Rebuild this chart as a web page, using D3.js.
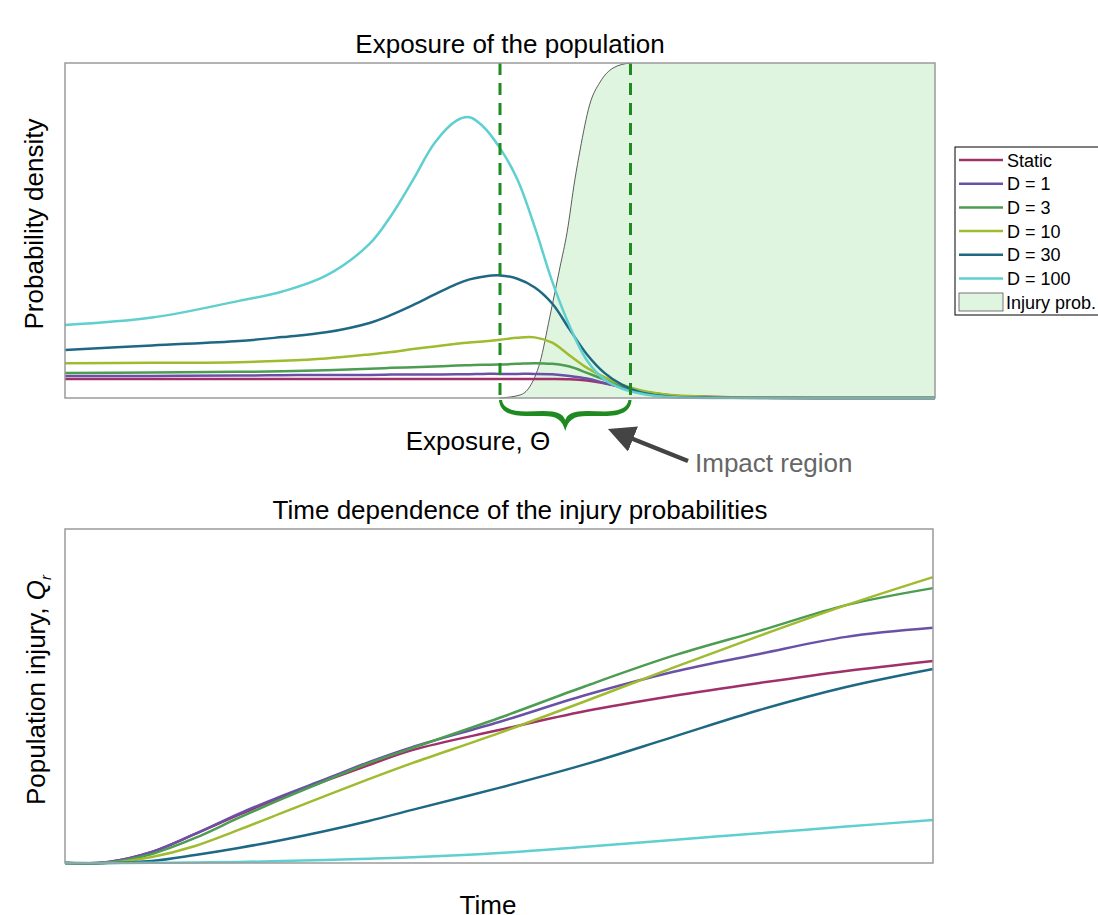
<!DOCTYPE html>
<html>
<head>
<meta charset="utf-8">
<script src="https://cdn.jsdelivr.net/npm/d3@7"></script>
<style>
  body { margin: 0; background: #fff; }
  svg { display: block; font-family: "Liberation Sans", Arial, sans-serif; }
  .frame { fill: none; stroke: #9a9a9a; stroke-width: 1.5px; }
</style>
</head>
<body>
<div id="chart"></div>
<script>
// exposure grid (top panel) and density of each population
var theta = [0, 1, 2, 2.5, 3, 3.5, 3.75, 4, 4.25, 4.5, 4.65, 4.8, 5, 5.2, 5.4, 5.6, 5.8, 6, 6.2, 6.4, 6.6, 6.8, 7, 7.5, 8, 9, 10];
var densStatic = [0.057, 0.057, 0.057, 0.057, 0.057, 0.057, 0.057, 0.057, 0.057, 0.057, 0.057, 0.057, 0.057, 0.057, 0.057, 0.057, 0.056, 0.052, 0.044, 0.032, 0.021, 0.013, 0.007, 0.003, 0.001, 0, 0];
var densD1 = [0.066, 0.066, 0.067, 0.068, 0.069, 0.069, 0.070, 0.070, 0.070, 0.071, 0.071, 0.072, 0.072, 0.072, 0.072, 0.071, 0.066, 0.058, 0.045, 0.032, 0.020, 0.011, 0.006, 0.002, 0.001, 0, 0];
var densD3 = [0.075, 0.076, 0.078, 0.080, 0.083, 0.087, 0.090, 0.092, 0.094, 0.097, 0.098, 0.099, 0.100, 0.102, 0.104, 0.102, 0.094, 0.075, 0.055, 0.036, 0.022, 0.013, 0.007, 0.002, 0.001, 0, 0];
var densD10 = [0.104, 0.105, 0.107, 0.111, 0.118, 0.130, 0.137, 0.146, 0.154, 0.162, 0.166, 0.169, 0.174, 0.180, 0.181, 0.165, 0.127, 0.090, 0.062, 0.040, 0.024, 0.014, 0.008, 0.003, 0.001, 0, 0];
var densD30 = [0.143, 0.157, 0.170, 0.182, 0.196, 0.224, 0.248, 0.277, 0.309, 0.340, 0.354, 0.362, 0.366, 0.356, 0.330, 0.282, 0.205, 0.130, 0.075, 0.040, 0.018, 0.008, 0.003, 0.001, 0, 0, 0];
var densD100 = [0.218, 0.240, 0.290, 0.318, 0.365, 0.460, 0.545, 0.651, 0.762, 0.828, 0.838, 0.812, 0.746, 0.652, 0.510, 0.348, 0.215, 0.112, 0.055, 0.028, 0.014, 0.006, 0.002, 0, 0, 0, 0];

// injury probability (dose-response) on its own grid
var injuryTheta = [5.0, 5.23, 5.34, 5.46, 5.57, 5.69, 5.77, 5.86, 5.92, 6.03, 6.15, 6.30, 6.49, 10];
var injuryProb = [0, 0.009, 0.033, 0.107, 0.239, 0.391, 0.493, 0.651, 0.740, 0.875, 0.943, 0.985, 1.0, 1.0];
var impactRegion = [5.0, 6.5];

// time grid (bottom panel) and population injury Q_r
var time = [0, 0.5, 1, 1.5, 2, 2.5, 3, 3.5, 4, 5, 6, 7, 8, 9, 10];
var qStatic = [0, 0.003, 0.033, 0.087, 0.144, 0.198, 0.246, 0.293, 0.338, 0.398, 0.455, 0.500, 0.539, 0.575, 0.605];
var qD1 = [0, 0.003, 0.033, 0.087, 0.147, 0.201, 0.251, 0.302, 0.347, 0.422, 0.503, 0.572, 0.626, 0.677, 0.704];
var qD3 = [0, 0.0015, 0.027, 0.075, 0.135, 0.192, 0.246, 0.299, 0.344, 0.434, 0.530, 0.620, 0.695, 0.772, 0.823];
var qD10 = [0, 0.0006, 0.018, 0.051, 0.099, 0.150, 0.201, 0.251, 0.299, 0.389, 0.485, 0.584, 0.680, 0.772, 0.856];
var qD30 = [0, 0, 0.006, 0.024, 0.045, 0.069, 0.096, 0.126, 0.159, 0.225, 0.296, 0.377, 0.458, 0.527, 0.581];
var qD100 = [0, 0, 0.0006, 0.0015, 0.003, 0.006, 0.009, 0.013, 0.017, 0.030, 0.049, 0.069, 0.089, 0.109, 0.129];

var seriesNames = ["Static", "D = 1", "D = 3", "D = 10", "D = 30", "D = 100"];
var seriesColors = ["#a0306a", "#6b50a8", "#4c9c52", "#9fbb2f", "#1e6884", "#5fcfcf"];
var densities = [densStatic, densD1, densD3, densD10, densD30, densD100];
var injuries = [qStatic, qD1, qD3, qD10, qD30, qD100];

var svg = d3.select("#chart").append("svg")
    .attr("width", 1098)
    .attr("height", 915);

// ---- top panel ----
var topBox = { x0: 65, x1: 935, y0: 63, y1: 398 };
var xT = d3.scaleLinear().domain([0, 10]).range([topBox.x0, topBox.x1]);
var yT = d3.scaleLinear().domain([0, 1]).range([topBox.y1, topBox.y0]);

var injuryPts = injuryTheta.map(function (t, i) { return [t, injuryProb[i]]; });
svg.append("path")
    .datum(injuryPts)
    .attr("d", d3.area()
        .x(function (d) { return xT(d[0]); })
        .y0(yT(0))
        .y1(function (d) { return yT(d[1]); })
        .curve(d3.curveMonotoneX))
    .style("fill", "#dff5df");
svg.append("path")
    .datum(injuryPts.slice(0, injuryPts.length - 1))
    .attr("d", d3.line()
        .x(function (d) { return xT(d[0]); })
        .y(function (d) { return yT(d[1]); })
        .curve(d3.curveMonotoneX))
    .style("fill", "none")
    .style("stroke", "#333")
    .style("stroke-width", 0.8);

var densLine = d3.line()
    .x(function (d) { return xT(d[0]); })
    .y(function (d) { return yT(Math.max(0, d[1])); })
    .curve(d3.curveCatmullRom.alpha(0.5));

densities.forEach(function (vals, k) {
    svg.append("path")
        .datum(theta.map(function (t, i) { return [t, vals[i]]; }))
        .attr("d", densLine)
        .style("fill", "none")
        .style("stroke", seriesColors[k])
        .style("stroke-width", 2.5);
});

svg.selectAll(".impact")
    .data(impactRegion)
    .enter().append("line")
    .attr("class", "impact")
    .attr("x1", function (d) { return xT(d); })
    .attr("x2", function (d) { return xT(d); })
    .attr("y1", yT(1))
    .attr("y2", yT(0))
    .style("stroke", "#1f8a1f")
    .style("stroke-width", 3)
    .style("stroke-dasharray", "12,8");

svg.append("rect").attr("class", "frame")
    .attr("x", topBox.x0).attr("y", topBox.y0)
    .attr("width", topBox.x1 - topBox.x0).attr("height", topBox.y1 - topBox.y0);

// brace under the impact region (filled, thicker toward the middle)
var bL = xT(impactRegion[0]), bR = xT(impactRegion[1]), bM = (bL + bR) / 2;
var brace = d3.path();
brace.moveTo(bL - 1, 400);
brace.bezierCurveTo(bL, 412, bL + 10, 416, bL + 26, 416);
brace.lineTo(bM - 22, 416);
brace.bezierCurveTo(bM - 8, 416, bM - 3, 420, bM, 431);
brace.bezierCurveTo(bM + 3, 420, bM + 8, 416, bM + 22, 416);
brace.lineTo(bR - 26, 416);
brace.bezierCurveTo(bR - 10, 416, bR, 412, bR + 1, 400);
brace.lineTo(bR - 2, 400);
brace.bezierCurveTo(bR - 3, 408, bR - 12, 411.5, bR - 26, 411.5);
brace.lineTo(bM + 22, 411);
brace.bezierCurveTo(bM + 8, 411, bM + 2, 414, bM, 420);
brace.bezierCurveTo(bM - 2, 414, bM - 8, 411, bM - 22, 411);
brace.lineTo(bL + 26, 411.5);
brace.bezierCurveTo(bL + 12, 411.5, bL + 3, 408, bL + 2, 400);
brace.closePath();
svg.append("path")
    .attr("d", brace.toString())
    .style("fill", "#1f8a1f");

// arrow + annotation
svg.append("defs").append("marker")
    .attr("id", "head")
    .attr("viewBox", "0 0 10 10")
    .attr("refX", 2).attr("refY", 5)
    .attr("markerWidth", 6).attr("markerHeight", 6)
    .attr("orient", "auto")
    .append("path").attr("d", "M0,0 L10,5 L0,10 Z").style("fill", "#444");
svg.append("line")
    .attr("x1", 688).attr("y1", 461)
    .attr("x2", 628).attr("y2", 437)
    .style("stroke", "#444")
    .style("stroke-width", 4.5)
    .attr("marker-end", "url(#head)");
svg.append("text")
    .attr("x", 695).attr("y", 472)
    .style("font-size", "26px")
    .style("fill", "#666")
    .text("Impact region");

svg.append("text")
    .attr("x", 510).attr("y", 53)
    .attr("text-anchor", "middle")
    .style("font-size", "26px")
    .text("Exposure of the population");
svg.append("text")
    .attr("x", 478).attr("y", 450)
    .attr("text-anchor", "middle")
    .style("font-size", "26px")
    .text("Exposure, \u0398");
svg.append("text")
    .attr("transform", "translate(43,224) rotate(-90)")
    .attr("text-anchor", "middle")
    .style("font-size", "26px")
    .text("Probability density");

// legend
var leg = svg.append("g").attr("transform", "translate(955,147)");
leg.append("rect")
    .attr("x", 0).attr("y", 0)
    .attr("width", 160).attr("height", 168)
    .style("fill", "#fff")
    .style("stroke", "#000")
    .style("stroke-width", 1);
seriesNames.forEach(function (name, k) {
    var y = 13 + k * 23.7;
    leg.append("line")
        .attr("x1", 4).attr("x2", 48)
        .attr("y1", y).attr("y2", y)
        .style("stroke", seriesColors[k])
        .style("stroke-width", 2.5);
    leg.append("text")
        .attr("x", 52).attr("y", y + 6.5)
        .style("font-size", "18px")
        .text(name);
});
leg.append("rect")
    .attr("x", 4).attr("y", 146)
    .attr("width", 44).attr("height", 18)
    .style("fill", "#dff5df")
    .style("stroke", "#555")
    .style("stroke-width", 0.8);
leg.append("text")
    .attr("x", 51).attr("y", 161.5)
    .style("font-size", "18px")
    .text("Injury prob.");

// ---- bottom panel ----
var botBox = { x0: 65, x1: 933, y0: 529, y1: 863 };
var xB = d3.scaleLinear().domain([0, 10]).range([botBox.x0, botBox.x1]);
var yB = d3.scaleLinear().domain([0, 1]).range([botBox.y1, botBox.y0]);

var qLine = d3.line()
    .x(function (d) { return xB(d[0]); })
    .y(function (d) { return yB(d[1]); })
    .curve(d3.curveCatmullRom.alpha(0.5));

injuries.forEach(function (vals, k) {
    svg.append("path")
        .datum(time.map(function (t, i) { return [t, vals[i]]; }))
        .attr("d", qLine)
        .style("fill", "none")
        .style("stroke", seriesColors[k])
        .style("stroke-width", 2.5);
});

svg.append("rect").attr("class", "frame")
    .attr("x", botBox.x0).attr("y", botBox.y0)
    .attr("width", botBox.x1 - botBox.x0).attr("height", botBox.y1 - botBox.y0);

svg.append("text")
    .attr("x", 520).attr("y", 519)
    .attr("text-anchor", "middle")
    .style("font-size", "26px")
    .text("Time dependence of the injury probabilities");
svg.append("text")
    .attr("x", 488).attr("y", 914)
    .attr("text-anchor", "middle")
    .style("font-size", "26px")
    .text("Time");

var yl = svg.append("text")
    .attr("transform", "translate(45,690) rotate(-90)")
    .attr("text-anchor", "middle")
    .style("font-size", "26px");
yl.append("tspan").text("Population injury, ");
yl.append("tspan").style("font-style", "italic").text("Q");
yl.append("tspan").style("font-style", "italic").style("font-size", "15px").attr("dy", 6).text("r");
</script>
</body>
</html>
